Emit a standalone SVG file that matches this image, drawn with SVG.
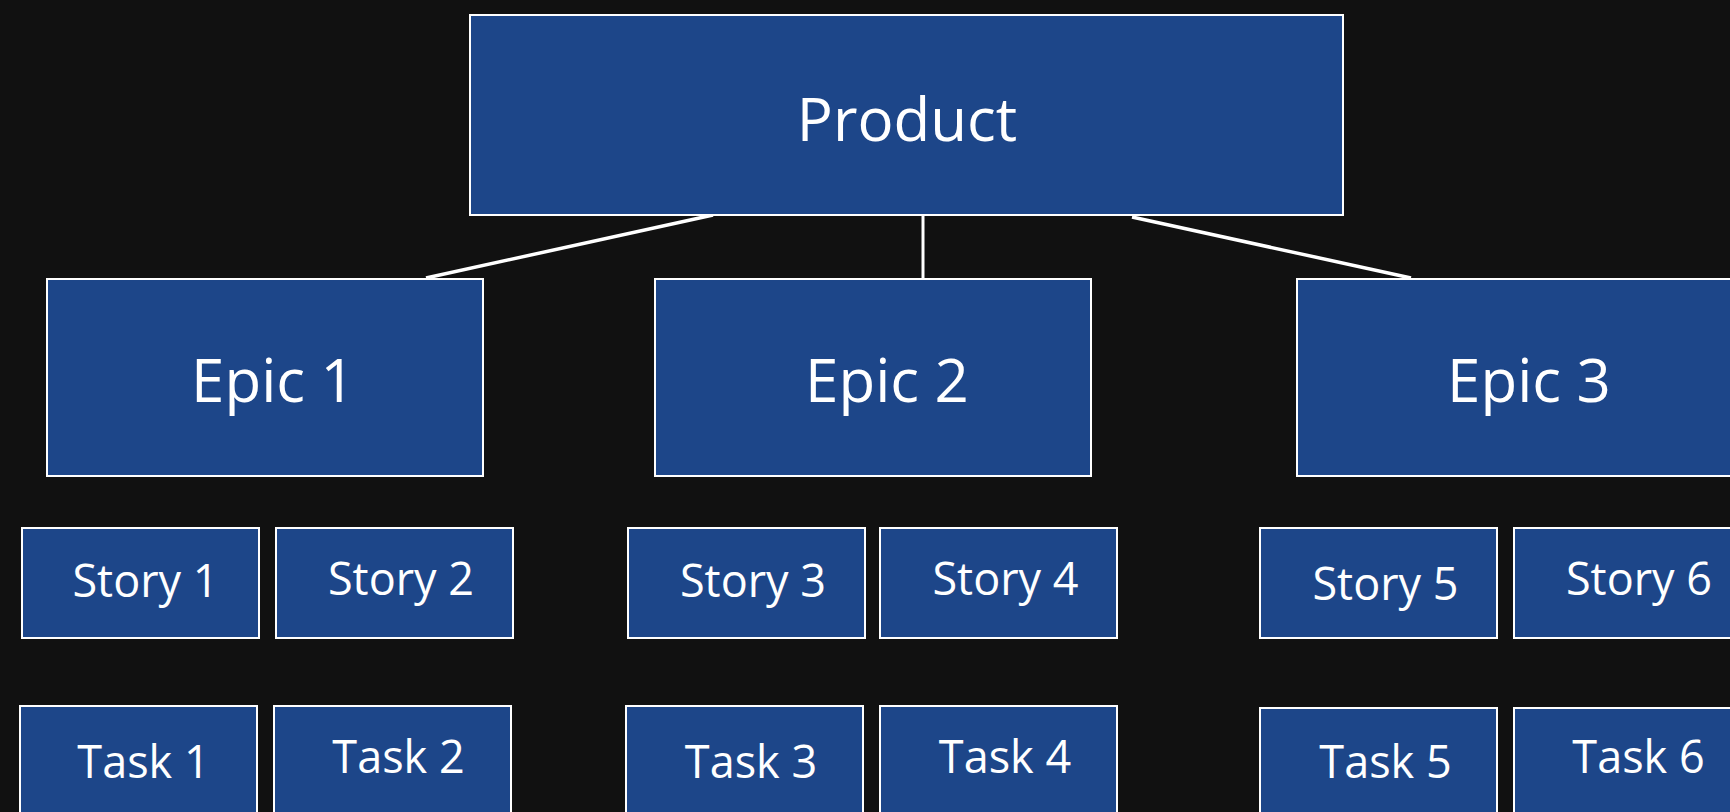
<svg xmlns="http://www.w3.org/2000/svg" width="1730" height="812" viewBox="0 0 1730 812">
<style>
.box{fill:#1d4689;stroke:#ffffff;stroke-width:2}
.t{fill:#ffffff;font-family:"Open Sans","Noto Sans",sans-serif;text-anchor:middle}
.big{font-size:60px}
.epic{font-size:60px}
.small{font-size:45px}
.conn{stroke:#ffffff;fill:none}
</style>
<rect width="1730" height="812" fill="#111111"/>
<g id="connectors">
<line class="conn" x1="713" y1="215" x2="426" y2="278" stroke-width="3.5"/>
<line class="conn" x1="923" y1="216" x2="923" y2="279" stroke-width="3"/>
<line class="conn" x1="1132" y1="217" x2="1411" y2="278" stroke-width="3.5"/>
</g>
<g id="product"><rect class="box" x="470" y="15" width="873" height="200"/><text class="t big" x="907" y="141">Product</text></g>
<g id="epic1"><rect class="box" x="47" y="279" width="436" height="197"/><text class="t epic" x="273" y="402">Epic 1</text></g>
<g id="epic2"><rect class="box" x="655" y="279" width="436" height="197"/><text class="t epic" x="887" y="402">Epic 2</text></g>
<g id="epic3"><rect class="box" x="1297" y="279" width="436" height="197"/><text class="t epic" x="1529" y="402">Epic 3</text></g>
<g id="story1"><rect class="box" x="22" y="528" width="237" height="110"/><text class="t small" x="145.5" y="597">Story 1</text></g>
<g id="story2"><rect class="box" x="276" y="528" width="237" height="110"/><text class="t small" x="401" y="595">Story 2</text></g>
<g id="story3"><rect class="box" x="628" y="528" width="237" height="110"/><text class="t small" x="753" y="597">Story 3</text></g>
<g id="story4"><rect class="box" x="880" y="528" width="237" height="110"/><text class="t small" x="1005.5" y="595">Story 4</text></g>
<g id="story5"><rect class="box" x="1260" y="528" width="237" height="110"/><text class="t small" x="1385.5" y="600">Story 5</text></g>
<g id="story6"><rect class="box" x="1514" y="528" width="237" height="110"/><text class="t small" x="1639" y="595">Story 6</text></g>
<g id="task1"><rect class="box" x="20" y="706" width="237" height="120"/><text class="t small" x="143.5" y="778">Task 1</text></g>
<g id="task2"><rect class="box" x="274" y="706" width="237" height="120"/><text class="t small" x="398.5" y="773">Task 2</text></g>
<g id="task3"><rect class="box" x="626" y="706" width="237" height="120"/><text class="t small" x="751" y="778">Task 3</text></g>
<g id="task4"><rect class="box" x="880" y="706" width="237" height="120"/><text class="t small" x="1005" y="773">Task 4</text></g>
<g id="task5"><rect class="box" x="1260" y="708" width="237" height="120"/><text class="t small" x="1385.5" y="778">Task 5</text></g>
<g id="task6"><rect class="box" x="1514" y="708" width="237" height="120"/><text class="t small" x="1638.5" y="773">Task 6</text></g>
</svg>
